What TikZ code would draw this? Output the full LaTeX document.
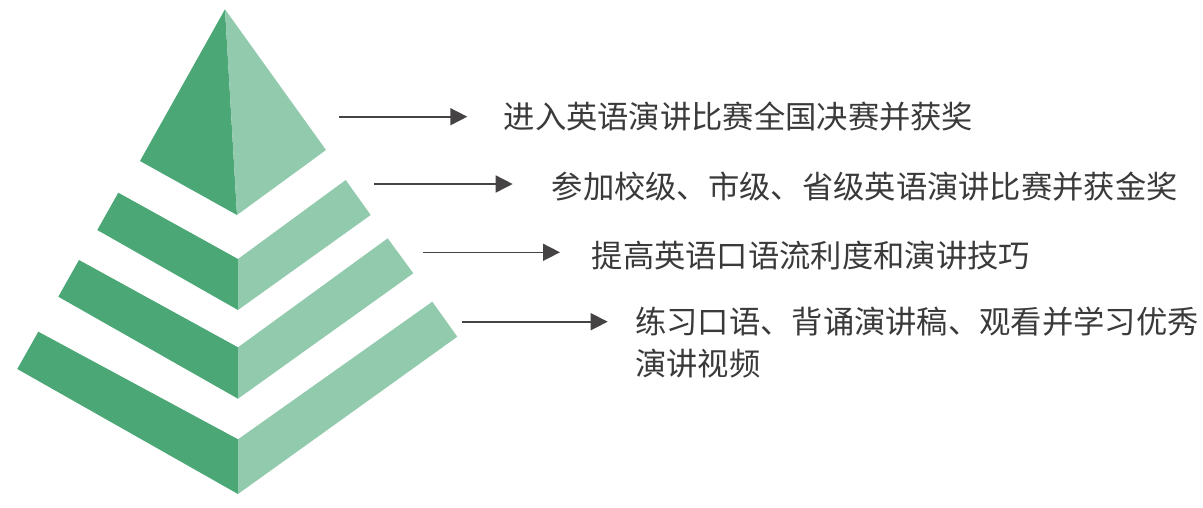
\documentclass[tikz,border=0pt]{standalone}
\usepackage{fontspec}
\newfontfamily\cjk{Noto Sans CJK SC}
\usetikzlibrary{arrows.meta}
\definecolor{darkg}{HTML}{4BA775}
\definecolor{lightg}{HTML}{92CAAE}
\definecolor{arrowc}{HTML}{464344}
\definecolor{textc}{HTML}{3A3A3A}
\begin{document}
\begin{tikzpicture}[x=1pt,y=-1pt,
  darkface/.style={fill=darkg,draw=none},
  lightface/.style={fill=lightg,draw=none},
  conn/.style={draw=arrowc,line width=1.6pt,-{Triangle[length=17pt,width=17pt]}},
  label/.style={anchor=base west,inner sep=0pt,text=textc,font=\cjk\fontsize{31.3}{42}\selectfont,align=left}]
\useasboundingbox (0,0) rectangle (1203,507);
% top triangle
\fill[darkface] (225,9.3) -- (140,161) -- (237,215) -- cycle;
\fill[lightface] (225,9.3) -- (237,215) -- (326,150) -- cycle;
% band 1
\fill[darkface] (118.3,192.7) -- (238,259) -- (238,310) -- (97.3,230) -- cycle;
\fill[lightface] (238,259) -- (345.7,180) -- (370.7,215) -- (238,310) -- cycle;
% band 2
\fill[darkface] (79,260) -- (238,347.3) -- (238,398.7) -- (58.3,296.7) -- cycle;
\fill[lightface] (238,347.3) -- (387.7,238.3) -- (413.3,273.3) -- (238,398.7) -- cycle;
% band 3
\fill[darkface] (38.3,331.7) -- (238,439.3) -- (238,494) -- (17.3,369) -- cycle;
\fill[lightface] (238,439.3) -- (432.3,301.7) -- (457.3,336.7) -- (238,494) -- cycle;
% texts
\node[label] (t1) at (503.5,128) {进入英语演讲比赛全国决赛并获奖};
\node[label] (t2) at (551.5,198.5) {参加校级、市级、省级英语演讲比赛并获金奖};
\node[label] (t3) at (591.5,267.5) {提高英语口语流利度和演讲技巧};
\node[label] (t4) at (635,375) {练习口语、背诵演讲稿、观看并学习优秀\\演讲视频};
% arrows
\coordinate (s1) at (339.3,116.7); \coordinate (e1) at (467.3,116.7);
\coordinate (s2) at (374.3,184);   \coordinate (e2) at (512.7,184);
\coordinate (s3) at (422.7,252.3); \coordinate (e3) at (560,252.3);
\coordinate (s4) at (461.7,321.7); \coordinate (e4) at (607.7,321.7);
\draw[conn] (s1) -- (e1);
\draw[conn] (s2) -- (e2);
\draw[conn] (s3) -- (e3);
\draw[conn] (s4) -- (e4);
\end{tikzpicture}
\end{document}
